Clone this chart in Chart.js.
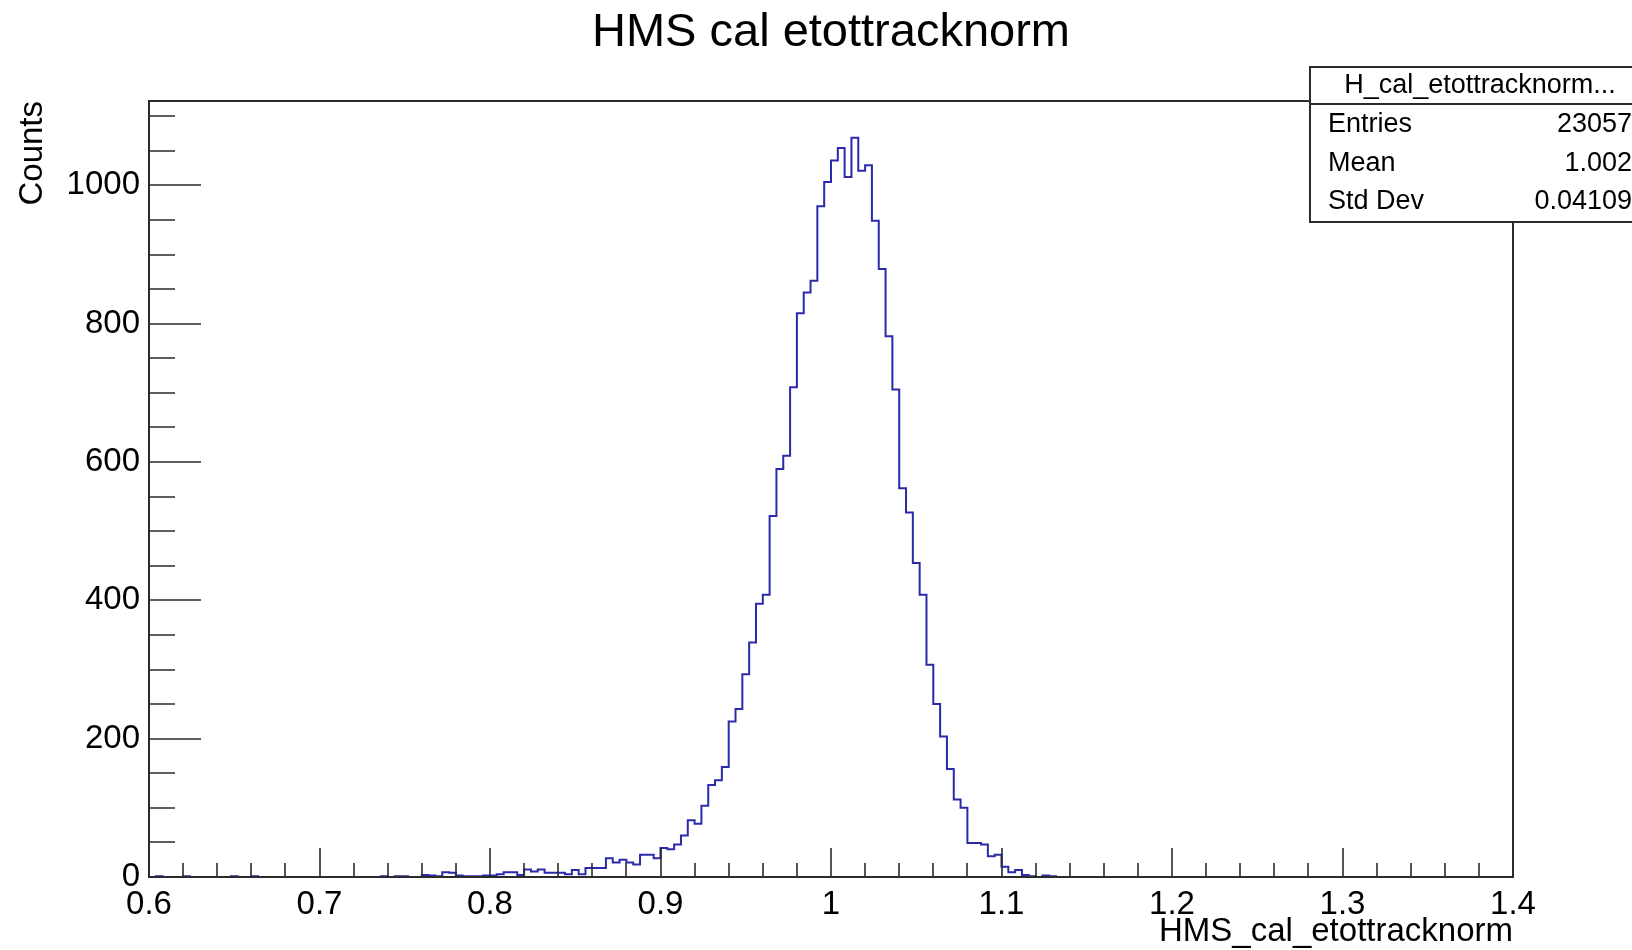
<!DOCTYPE html>
<html>
<head>
<meta charset="utf-8">
<title>HMS cal etottracknorm</title>
<script src="https://cdn.jsdelivr.net/npm/chart.js@4.4.1/dist/chart.umd.min.js"></script>
<style>
  html, body { margin: 0; padding: 0; background: #fff; }
  canvas { display: block; }
</style>
</head>
<body>
<canvas id="histChart" width="1632" height="950"></canvas>
<script>
// H_cal_etottracknorm : 200 bins between 0.6 and 1.4
const xMin = 0.6;
const xMax = 1.4;
const yMax = 1122;

const binCounts = [
  0, 1, 0, 0, 0, 1, 0, 0, 0, 0,
  0, 0, 1, 0, 0, 1, 0, 0, 0, 0,
  0, 0, 0, 0, 0, 0, 0, 0, 0, 0,
  0, 0, 0, 0, 1, 0, 1, 1, 0, 0,
  3, 2, 1, 7, 6, 2, 1, 1, 1, 2,
  2, 4, 7, 7, 3, 11, 8, 11, 6, 6,
  6, 4, 10, 4, 13, 13, 13, 27, 21, 25,
  21, 18, 32, 32, 27, 42, 40, 47, 60, 82,
  77, 103, 133, 140, 159, 225, 243, 293, 339, 395,
  408, 522, 590, 609, 708, 815, 845, 862, 970, 1005,
  1036, 1054, 1012, 1069, 1021, 1029, 949, 879, 782, 705,
  562, 527, 454, 408, 307, 250, 203, 156, 112, 100,
  49, 49, 47, 30, 32, 15, 7, 10, 3, 1,
  0, 2, 1, 0, 0, 0, 0, 0, 0, 0,
  0, 0, 0, 0, 0, 0, 0, 0, 0, 0,
  0, 0, 0, 0, 0, 0, 0, 0, 0, 0,
  0, 0, 0, 0, 0, 0, 0, 0, 0, 0,
  0, 0, 0, 0, 0, 0, 0, 0, 0, 0,
  0, 0, 0, 0, 0, 0, 0, 0, 0, 0,
  0, 0, 0, 0, 0, 0, 0, 0, 0, 0
];

const xTickValues = [0.6, 0.7, 0.8, 0.9, 1.0, 1.1, 1.2, 1.3, 1.4];
const xTickLabels = ['0.6', '0.7', '0.8', '0.9', '1', '1.1', '1.2', '1.3', '1.4'];
const yTickValues = [0, 200, 400, 600, 800, 1000];
const yTickLabels = ['0', '200', '400', '600', '800', '1000'];

const statsTitle = 'H_cal_etottracknorm...';
const statsLabels = ['Entries', 'Mean', 'Std Dev'];
const statsValues = ['23057', '1.002', '0.04109'];

const axisColor = '#2b2b2b';
const lineColor = '#2a2aaa';
const fontFamily = "'Liberation Sans', Arial, Helvetica, sans-serif";

Chart.defaults.font.family = fontFamily;
Chart.defaults.color = '#000';

// bin left edges -> step points, last point closes the final bin
const binWidth = (xMax - xMin) / binCounts.length;
const histPoints = binCounts.map((c, i) => ({ x: xMin + i * binWidth, y: c }));
histPoints.push({ x: xMax, y: binCounts[binCounts.length - 1] });

// inward ticks + frame like a ROOT canvas
const rootFrame = {
  id: 'rootFrame',
  afterDatasetsDraw(chart) {
    const { ctx, chartArea: a, scales: { x, y } } = chart;
    ctx.save();
    ctx.strokeStyle = axisColor;
    ctx.lineWidth = 1.6;
    ctx.beginPath();
    for (let k = 0; k <= 40; k++) {
      const px = Math.round(x.getPixelForValue(xMin + k * 0.02));
      const len = k % 5 === 0 ? 29 : 14;
      ctx.moveTo(px, a.bottom);
      ctx.lineTo(px, a.bottom - len);
    }
    for (let c = 50; c <= yMax; c += 50) {
      const py = Math.round(y.getPixelForValue(c));
      const len = c % 200 === 0 ? 52 : 26;
      ctx.moveTo(a.left, py);
      ctx.lineTo(a.left + len, py);
    }
    ctx.stroke();
    ctx.lineWidth = 2;
    ctx.beginPath();
    ctx.moveTo(a.left, a.top);
    ctx.lineTo(a.right, a.top);
    ctx.lineTo(a.right, a.bottom);
    ctx.stroke();
    ctx.restore();
  },
  afterDraw(chart) {
    const ctx = chart.ctx;
    const box = { left: 1310, top: 67, width: 340, height: 155, headerBottom: 104 };
    ctx.save();
    ctx.fillStyle = '#fff';
    ctx.fillRect(box.left, box.top, box.width, box.height);
    ctx.strokeStyle = axisColor;
    ctx.lineWidth = 2;
    ctx.strokeRect(box.left, box.top, box.width, box.height);
    ctx.beginPath();
    ctx.moveTo(box.left, box.headerBottom);
    ctx.lineTo(box.left + box.width, box.headerBottom);
    ctx.stroke();

    ctx.fillStyle = '#000';
    ctx.font = '27px ' + fontFamily;
    ctx.textBaseline = 'middle';
    ctx.textAlign = 'center';
    ctx.fillText(statsTitle, 1480, 86);
    const rowY = [125, 163.5, 202];
    statsLabels.forEach((lab, i) => {
      ctx.textAlign = 'left';
      ctx.fillText(lab, 1328, rowY[i]);
      ctx.textAlign = 'right';
      ctx.fillText(statsValues[i], 1632, rowY[i]);
    });
    ctx.restore();
  }
};

const ctx = document.getElementById('histChart').getContext('2d');
new Chart(ctx, {
  type: 'line',
  data: {
    datasets: [{
      label: 'H_cal_etottracknorm',
      data: histPoints,
      stepped: 'before',
      borderColor: lineColor,
      borderWidth: 2,
      pointRadius: 0,
      fill: false,
      tension: 0
    }]
  },
  options: {
    responsive: false,
    animation: false,
    events: [],
    layout: { padding: { left: 0, right: 119, top: 0, bottom: 0 } },
    plugins: {
      legend: { display: false },
      tooltip: { enabled: false },
      title: {
        display: true,
        text: 'HMS cal etottracknorm',
        fullSize: false,
        color: '#000',
        font: { size: 47, weight: 'normal', lineHeight: 1.2 },
        padding: { top: 5, bottom: 39.6 }
      }
    },
    scales: {
      x: {
        type: 'linear',
        min: xMin,
        max: xMax,
        grid: { display: false, drawTicks: false },
        border: { display: true, color: axisColor, width: 2, z: 1 },
        afterBuildTicks: s => { s.ticks = xTickValues.map(v => ({ value: v })); },
        afterFit: s => { s.height = 73; },
        ticks: {
          autoSkip: false,
          maxRotation: 0,
          padding: 8,
          font: { size: 33, lineHeight: 1.2 },
          callback: (v, i) => xTickLabels[i]
        },
        title: {
          display: true,
          text: 'HMS_cal_etottracknorm',
          align: 'end',
          color: '#000',
          font: { size: 33, lineHeight: 1.2 },
          padding: { top: 0, bottom: -2 }
        }
      },
      y: {
        min: 0,
        max: yMax,
        grid: { display: false, drawTicks: false },
        border: { display: true, color: axisColor, width: 2, z: 1 },
        afterBuildTicks: s => { s.ticks = yTickValues.map(v => ({ value: v })); },
        afterFit: s => { s.width = 149; },
        ticks: {
          autoSkip: false,
          padding: 9,
          font: { size: 33, lineHeight: 1.2 },
          callback: (v, i) => yTickLabels[i]
        },
        title: {
          display: true,
          text: 'Counts',
          align: 'end',
          color: '#000',
          font: { size: 33, lineHeight: 1.2 },
          padding: { top: 13, bottom: 0 }
        }
      }
    }
  },
  plugins: [rootFrame]
});
</script>
</body>
</html>
